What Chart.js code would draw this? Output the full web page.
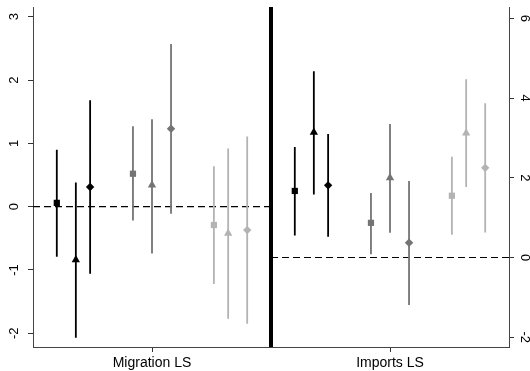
<!DOCTYPE html>
<html>
<head>
<meta charset="utf-8">
<script src="https://cdn.jsdelivr.net/npm/chart.js@4/dist/chart.umd.min.js"></script>
<style>
  body { margin: 0; background: #fff; }
</style>
</head>
<body>
<canvas id="cv" width="530" height="371"></canvas>
<script>
const panels = ["Migration LS", "Imports LS"];

// within each panel: spec 1 (black), spec 2 (gray), spec 3 (light gray),
// each as square, triangle, diamond
const migCoef = [0.06, -0.84, 0.31, 0.52, 0.34, 1.23, -0.29, -0.42, -0.37];
const migLo   = [-0.79, -2.07, -1.06, -0.22, -0.74, -0.11, -1.22, -1.77, -1.85];
const migHi   = [0.90, 0.38, 1.68, 1.27, 1.38, 2.57, 0.64, 0.92, 1.11];

const impCoef = [1.67, 3.14, 1.81, 0.87, 2.00, 0.37, 1.55, 3.12, 2.25];
const impLo   = [0.55, 1.58, 0.52, 0.08, 0.62, -1.19, 0.57, 1.77, 0.63];
const impHi   = [2.77, 4.67, 3.10, 1.62, 3.35, 1.92, 2.53, 4.47, 3.87];

const leftTicks = [-2, -1, 0, 1, 2, 3];
const rightTicks = [-2, 0, 2, 4, 6];
const leftRange = [-2.216, 3.153];
const rightRange = [-2.243, 6.283];

// layout of the markers inside a panel (panel is 2 units wide)
const centres = [1, 3];
const dodge = [-0.8, -0.64, -0.52, -0.16, 0, 0.16, 0.52, 0.64, 0.8];
const shapes = ["rect", "triangle", "rectRot"];
const sizes = [4.4, 4.8, 4.2];
const colours = ["#000000", "#747474", "#b3b3b3"];
const font = "'Liberation Sans', Arial, sans-serif";

function panelSets(c, coef, lo, hi, axis) {
  const out = [];
  for (let g = 0; g < 3; g++) {
    const idx = [3 * g, 3 * g + 1, 3 * g + 2];
    const ci = [];
    idx.forEach(function(i) {
      ci.push({x: c + dodge[i], y: lo[i]});
      ci.push({x: c + dodge[i], y: hi[i]});
      ci.push({x: c + dodge[i], y: null});
    });
    out.push({
      data: ci, yAxisID: axis, showLine: true, spanGaps: false,
      borderColor: colours[g], borderWidth: 1.8, pointRadius: 0, order: 2
    });
    out.push({
      data: idx.map(function(i) { return {x: c + dodge[i], y: coef[i]}; }),
      yAxisID: axis, showLine: false,
      pointStyle: shapes, pointRadius: sizes,
      pointBackgroundColor: colours[g], pointBorderColor: colours[g],
      pointBorderWidth: 0, order: 1
    });
  }
  return out;
}

const datasets = []
  .concat(panelSets(centres[0], migCoef, migLo, migHi, "y"))
  .concat(panelSets(centres[1], impCoef, impLo, impHi, "y1"));

// zero reference lines
datasets.push({
  data: [{x: 0, y: 0}, {x: 2, y: 0}], yAxisID: "y", showLine: true,
  borderColor: "#000", borderWidth: 1.1, borderDash: [7, 4], pointRadius: 0, order: 3
});
datasets.push({
  data: [{x: 2, y: 0}, {x: 4, y: 0}], yAxisID: "y1", showLine: true,
  borderColor: "#000", borderWidth: 1.1, borderDash: [7, 4], pointRadius: 0, order: 3
});
// divider between the panels
datasets.push({
  data: [{x: 2, y: leftRange[0]}, {x: 2, y: leftRange[1]}], yAxisID: "y", showLine: true,
  borderColor: "#000", borderWidth: 4, pointRadius: 0, order: 0
});

const tickFont = {family: font, size: 13};

new Chart(document.getElementById("cv"), {
  type: "scatter",
  data: {datasets: datasets},
  options: {
    responsive: false,
    animation: false,
    events: [],
    layout: {padding: {top: 7, left: 0, right: 0, bottom: 0}},
    plugins: {legend: {display: false}, tooltip: {enabled: false}},
    scales: {
      x: {
        type: "linear", min: 0, max: 4,
        afterBuildTicks: function(s) { s.ticks = centres.map(function(v) { return {value: v}; }); },
        ticks: {
          autoSkip: false, maxRotation: 0, padding: 3, color: "#000",
          font: {family: font, size: 14},
          callback: function(v, i) { return panels[i]; }
        },
        grid: {drawOnChartArea: false, drawTicks: true, tickLength: 5, color: "#333"},
        border: {color: "#444", width: 1},
        afterFit: function(s) { s.height = 24; s.paddingLeft = 0; s.paddingRight = 0; }
      },
      y: {
        position: "left", min: leftRange[0], max: leftRange[1],
        afterBuildTicks: function(s) { s.ticks = leftTicks.map(function(v) { return {value: v}; }); },
        ticks: {
          autoSkip: false, minRotation: 90, maxRotation: 90, crossAlign: "center",
          padding: 8, color: "#000", font: tickFont
        },
        grid: {drawOnChartArea: false, drawTicks: true, tickLength: 5, color: "#333"},
        border: {color: "#444", width: 1},
        afterFit: function(s) { s.width = 33; s.paddingTop = 0; s.paddingBottom = 0; }
      },
      y1: {
        position: "right", min: rightRange[0], max: rightRange[1],
        afterBuildTicks: function(s) { s.ticks = rightTicks.map(function(v) { return {value: v}; }); },
        ticks: {
          autoSkip: false, minRotation: -90, maxRotation: -90, crossAlign: "center",
          padding: 5, color: "#000", font: tickFont
        },
        grid: {drawOnChartArea: false, drawTicks: true, tickLength: 5, color: "#333"},
        border: {color: "#444", width: 1},
        afterFit: function(s) { s.width = 21; s.paddingTop = 0; s.paddingBottom = 0; }
      }
    }
  }
});
</script>
</body>
</html>
